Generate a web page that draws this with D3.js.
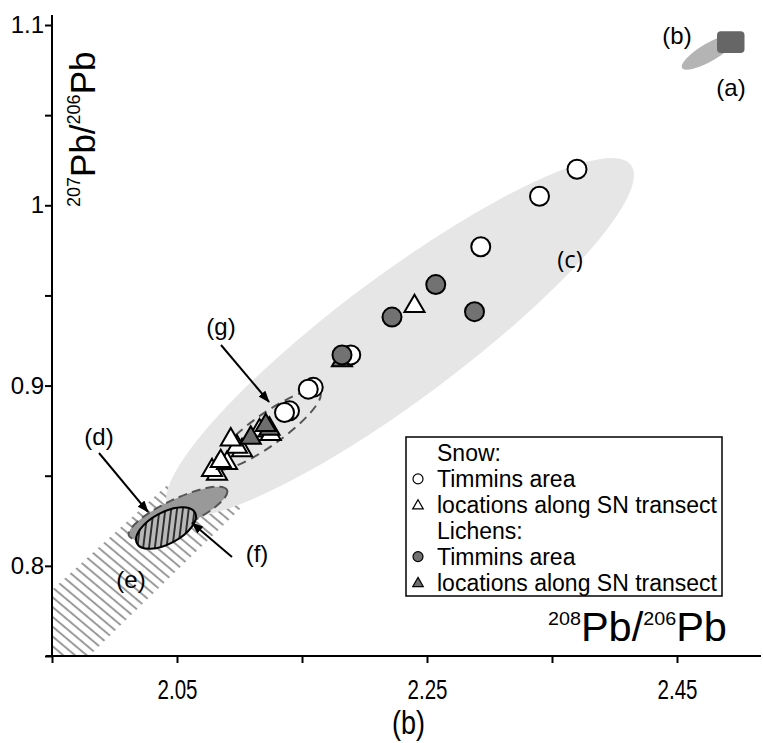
<!DOCTYPE html>
<html>
<head>
<meta charset="utf-8">
<script src="https://cdn.jsdelivr.net/npm/d3@7"></script>
<style>
  body { margin: 0; background: #fff; }
  svg { display: block; font-family: "Liberation Sans", Arial, sans-serif; }
</style>
</head>
<body>
<div id="chart"></div>
<script>
// 208Pb/206Pb (x) vs 207Pb/206Pb (y)
const snowTimmins = [
  [2.370, 1.020], [2.340, 1.005], [2.293, 0.977], [2.189, 0.917],
  [2.159, 0.899], [2.155, 0.898], [2.140, 0.886], [2.136, 0.885]
];
const snowTransect = [
  [2.240, 0.944], [2.082, 0.851], [2.078, 0.853], [2.090, 0.857],
  [2.085, 0.858], [2.102, 0.864], [2.098, 0.866], [2.093, 0.870],
  [2.119, 0.873], [2.116, 0.875], [2.125, 0.873]
];
const lichenTimmins = [
  [2.182, 0.917], [2.222, 0.938], [2.257, 0.956], [2.288, 0.941]
];
const lichenTransect = [
  [2.182, 0.914], [2.109, 0.871], [2.124, 0.876], [2.121, 0.878]
];

// axis ticks
const xTicks = [1.95, 2.05, 2.15, 2.25, 2.35, 2.45];
const xTickLabels = ["", "2.05", "", "2.25", "", "2.45"];
const yTicks = [0.75, 0.8, 0.85, 0.9, 0.95, 1.0, 1.05, 1.1];
const yTickLabels = ["", "0.8", "", "0.9", "", "1", "", "1.1"];

// literature fields drawn as ellipses: ends of the long axis, and width / length
const fieldIds = ["c", "b", "d", "f", "g"];
const fieldTips = [
  [[2.0436, 0.8310], [2.4132, 1.0223]],
  [[2.4540, 1.0761], [2.4980, 1.0939]],
  [[2.0116, 0.8166], [2.0900, 0.8421]],
  [[2.0180, 0.8124], [2.0644, 0.8296]],
  [[2.0796, 0.8543], [2.1644, 0.8964]]
];
const fieldRatio = [0.215, 0.28, 0.26, 0.48, 0.24];
// field (a): box, field (e): band
const fieldA = [[2.482, 1.0844], [2.504, 1.0966]];
const fieldE = [[1.95, 0.7866], [2.05, 0.8498], [2.1036, 0.8337], [1.9796, 0.75], [1.95, 0.75]];

// callout labels and arrows
const callouts = ["(a)", "(b)", "(c)", "(d)", "(e)", "(f)", "(g)"];
const calloutPos = [
  [2.4932, 1.0656], [2.4500, 1.0944], [2.3644, 0.9707], [1.9876, 0.8715],
  [2.0132, 0.7922], [2.1140, 0.8071], [2.0852, 0.9325]
];
const arrows = [
  [[2.0852, 0.9225], [2.1236, 0.8909]],
  [[1.9876, 0.8626], [2.0268, 0.8299]],
  [[2.0940, 0.8049], [2.0620, 0.8238]]
];

const legendRows = ["Snow:", "Timmins area", "locations along SN transect",
                    "Lichens:", "Timmins area", "locations along SN transect"];
const legendSymbols = ["", "circle-w", "tri-w", "", "circle-g", "tri-g"];

const width = 763, height = 743;

const svg = d3.select("#chart")
  .append("svg")
    .attr("width", width)
    .attr("height", height);

const x = d3.scaleLinear().domain([1.95, 2.516]).range([52, 759.5]);
const y = d3.scaleLinear().domain([0.75, 1.1]).range([656, 25]);

const defs = svg.append("defs");

// hatch for (e)
defs.append("pattern")
    .attr("id", "hatchE")
    .attr("patternUnits", "userSpaceOnUse")
    .attr("width", 10).attr("height", 7.5)
    .attr("patternTransform", "rotate(40)")
  .append("line")
    .attr("x1", 0).attr("x2", 10).attr("y1", 3.75).attr("y2", 3.75)
    .attr("stroke", "#9a9a9a").attr("stroke-width", 2);

// hatch for (f)
const pf = defs.append("pattern")
    .attr("id", "hatchF")
    .attr("patternUnits", "userSpaceOnUse")
    .attr("width", 10).attr("height", 5.8)
    .attr("patternTransform", "rotate(-55)");
pf.append("rect").attr("width", 10).attr("height", 5.8).attr("fill", "#b8b8b8");
pf.append("line")
    .attr("x1", 0).attr("x2", 10).attr("y1", 2.9).attr("y2", 2.9)
    .attr("stroke", "#111").attr("stroke-width", 1.6);

defs.append("marker")
    .attr("id", "arrow")
    .attr("markerUnits", "userSpaceOnUse")
    .attr("markerWidth", 12).attr("markerHeight", 9)
    .attr("refX", 11).attr("refY", 4.5)
    .attr("orient", "auto")
  .append("path")
    .attr("d", "M0,0 L12,4.5 L0,9 Z")
    .attr("fill", "#000");

// band (e)
svg.append("path")
  .attr("d", d3.line().x(d => x(d[0])).y(d => y(d[1]))(fieldE) + "Z")
  .attr("fill", "url(#hatchE)");

// ellipse geometry from data tips
function ellipseOf(i) {
  const [p, q] = fieldTips[i];
  const x1 = x(p[0]), y1 = y(p[1]), x2 = x(q[0]), y2 = y(q[1]);
  const rx = Math.hypot(x2 - x1, y2 - y1) / 2;
  return {
    cx: (x1 + x2) / 2, cy: (y1 + y2) / 2, rx: rx, ry: rx * fieldRatio[i],
    ang: Math.atan2(y2 - y1, x2 - x1) * 180 / Math.PI
  };
}
const fieldStyle = {
  c: {fill: "#e6e6e6", stroke: "none"},
  b: {fill: "#b4b4b4", stroke: "none"},
  d: {fill: "#999999", stroke: "#555", dash: "9,5"},
  f: {fill: "url(#hatchF)", stroke: "#000"},
  g: {fill: "none", stroke: "#555", dash: "9,6"}
};

const fields = svg.append("g");
fieldIds.forEach((id, i) => {
  const e = ellipseOf(i), s = fieldStyle[id];
  fields.append("ellipse")
    .attr("transform", `translate(${e.cx},${e.cy}) rotate(${e.ang})`)
    .attr("rx", e.rx).attr("ry", e.ry)
    .attr("fill", s.fill)
    .attr("stroke", s.stroke)
    .attr("stroke-width", 2)
    .attr("stroke-dasharray", s.dash || null);
  if (id === "b") {
    // field (a) sits on top of (b)
    fields.append("rect")
      .attr("x", x(fieldA[0][0])).attr("y", y(fieldA[1][1]))
      .attr("width", x(fieldA[1][0]) - x(fieldA[0][0]))
      .attr("height", y(fieldA[0][1]) - y(fieldA[1][1]))
      .attr("rx", 4)
      .attr("fill", "#666");
  }
});

// markers
const tri = d3.symbol().type(d3.symbolTriangle).size(175);
const triSmall = d3.symbol().type(d3.symbolTriangle).size(48);

svg.append("g").selectAll("path")
  .data(snowTransect)
  .join("path")
    .attr("d", tri)
    .attr("transform", d => `translate(${x(d[0])},${y(d[1])})`)
    .attr("fill", "#fff").attr("stroke", "#000").attr("stroke-width", 2);

svg.append("g").selectAll("path")
  .data(lichenTransect)
  .join("path")
    .attr("d", tri)
    .attr("transform", d => `translate(${x(d[0])},${y(d[1])})`)
    .attr("fill", "#6e6e6e").attr("stroke", "#000").attr("stroke-width", 2);

svg.append("g").selectAll("circle")
  .data(snowTimmins)
  .join("circle")
    .attr("cx", d => x(d[0])).attr("cy", d => y(d[1])).attr("r", 9.5)
    .attr("fill", "#fff").attr("stroke", "#000").attr("stroke-width", 2);

svg.append("g").selectAll("circle")
  .data(lichenTimmins)
  .join("circle")
    .attr("cx", d => x(d[0])).attr("cy", d => y(d[1])).attr("r", 9.5)
    .attr("fill", "#727272").attr("stroke", "#000").attr("stroke-width", 2);

// arrows
svg.append("g").selectAll("line")
  .data(arrows)
  .join("line")
    .attr("x1", d => x(d[0][0])).attr("y1", d => y(d[0][1]))
    .attr("x2", d => x(d[1][0])).attr("y2", d => y(d[1][1]))
    .attr("stroke", "#000").attr("stroke-width", 2)
    .attr("marker-end", "url(#arrow)");

// callout labels
svg.append("g").selectAll("text")
  .data(callouts)
  .join("text")
    .attr("x", (d, i) => x(calloutPos[i][0]))
    .attr("y", (d, i) => y(calloutPos[i][1]))
    .attr("text-anchor", "middle")
    .attr("dominant-baseline", "central")
    .style("font-size", "24px")
    .style("font-family", d => d === "(c)" ? "'Open Sans', sans-serif" : null)
    .text(d => d);

// legend
const lg = svg.append("g").attr("transform", "translate(406,437)");
lg.append("rect")
  .attr("width", 316).attr("height", 159)
  .attr("fill", "#fff").attr("stroke", "#000").attr("stroke-width", 1.5);
legendRows.forEach((t, i) => {
  const cy = 16 + i * 25.9;
  lg.append("text")
    .attr("x", 31).attr("y", cy)
    .attr("dominant-baseline", "central")
    .style("font-size", "23px")
    .text(t);
  const s = legendSymbols[i];
  if (s.startsWith("circle")) {
    lg.append("circle").attr("cx", 12).attr("cy", cy).attr("r", 5)
      .attr("fill", s === "circle-g" ? "#727272" : "#fff")
      .attr("stroke", "#000").attr("stroke-width", 1.2);
  } else if (s.startsWith("tri")) {
    lg.append("path").attr("d", triSmall)
      .attr("transform", `translate(12,${cy + 1})`)
      .attr("fill", s === "tri-g" ? "#6e6e6e" : "#fff")
      .attr("stroke", "#000").attr("stroke-width", 1.2);
  }
});

// axes
const xAxis = svg.append("g")
  .attr("transform", `translate(0,${y(0.75)})`)
  .call(d3.axisBottom(x).tickValues(xTicks)
    .tickFormat((d, i) => xTickLabels[i]).tickSize(7).tickPadding(17));
xAxis.select(".domain").remove();
xAxis.selectAll("line").attr("stroke-width", 2);
xAxis.selectAll("text")
  .style("font-size", "27px")
  .attr("textLength", d => xTickLabels[xTicks.indexOf(d)] ? 40 : null)
  .attr("lengthAdjust", "spacingAndGlyphs");

const yAxis = svg.append("g")
  .attr("transform", `translate(${x(1.95)},0)`)
  .call(d3.axisLeft(y).tickValues(yTicks)
    .tickFormat((d, i) => yTickLabels[i]).tickSize(7).tickPadding(1));
yAxis.select(".domain").remove();
yAxis.selectAll("line").attr("stroke-width", 2);
yAxis.selectAll("text").style("font-size", "24px");

svg.append("line")
  .attr("x1", x(1.95) - 6).attr("x2", 761)
  .attr("y1", y(0.75)).attr("y2", y(0.75))
  .attr("stroke", "#000").attr("stroke-width", 2);
svg.append("line")
  .attr("x1", x(1.95)).attr("x2", x(1.95))
  .attr("y1", 15).attr("y2", y(0.75))
  .attr("stroke", "#000").attr("stroke-width", 2);

// axis titles
const xt = svg.append("text")
  .attr("x", 548).attr("y", 641)
  .attr("textLength", 179)
  .attr("lengthAdjust", "spacingAndGlyphs")
  .style("font-size", "40px");
xt.append("tspan").text("208").style("font-size", "19px").attr("dy", -16);
xt.append("tspan").text("Pb/").attr("dy", 16);
xt.append("tspan").text("206").style("font-size", "19px").attr("dy", -16);
xt.append("tspan").text("Pb").attr("dy", 16);

const yt = svg.append("text")
  .attr("transform", "translate(95,207) rotate(-90)")
  .attr("text-anchor", "start")
  .style("font-size", "35px");
yt.append("tspan").text("207").style("font-size", "18px").attr("dy", -15);
yt.append("tspan").text("Pb/").attr("dy", 15);
yt.append("tspan").text("206").style("font-size", "18px").attr("dy", -15);
yt.append("tspan").text("Pb").attr("dy", 15);

svg.append("text")
  .attr("x", 392).attr("y", 734)
  .attr("textLength", 33)
  .attr("lengthAdjust", "spacingAndGlyphs")
  .style("font-size", "33px")
  .text("(b)");
</script>
</body>
</html>
